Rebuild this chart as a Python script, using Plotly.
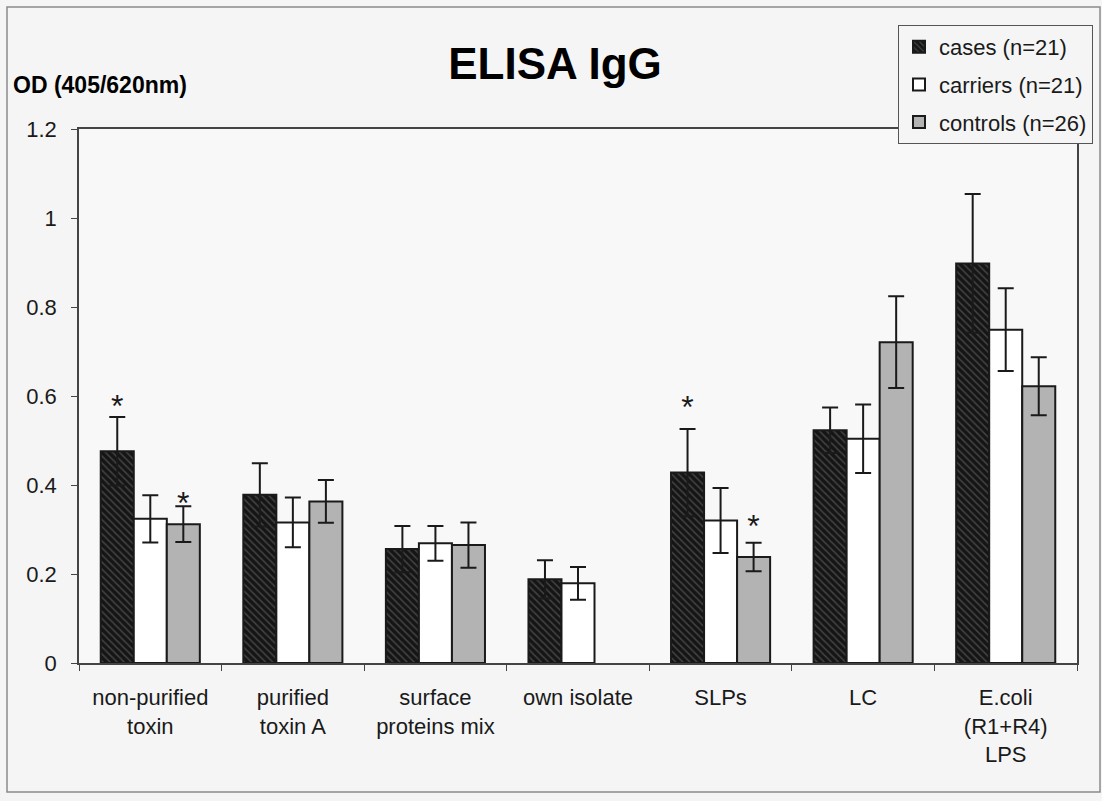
import plotly.graph_objects as go

categories = ["non-purified<br>toxin", "purified<br>toxin A", "surface<br>proteins mix",
              "own isolate", "SLPs", "LC", "E.coli<br>(R1+R4)<br>LPS"]
series_names = ["cases (n=21)", "carriers (n=21)", "controls (n=26)"]

cases = [0.476, 0.378, 0.256, 0.188, 0.428, 0.523, 0.898]
cases_err = [0.077, 0.071, 0.052, 0.043, 0.098, 0.051, 0.156]
carriers = [0.324, 0.316, 0.269, 0.179, 0.320, 0.504, 0.749]
carriers_err = [0.053, 0.056, 0.039, 0.037, 0.073, 0.077, 0.093]
controls = [0.312, 0.363, 0.265, None, 0.238, 0.721, 0.622]
controls_err = [0.040, 0.048, 0.051, None, 0.032, 0.103, 0.065]

# significance asterisks (y position)
cases_star = [0.570, None, None, None, 0.568, None, None]
controls_star = [0.353, None, None, None, 0.301, None, None]

FONT = "Liberation Sans, Arial, sans-serif"
INK = "#1a1a1a"
BG = "#f5f5f5"

fig = go.Figure()

err_style = dict(type="data", visible=True, color=INK, thickness=2, width=8)

fig.add_trace(go.Bar(
    x=categories, y=cases, name=series_names[0], offsetgroup="a", legendgroup="a",
    error_y=dict(array=cases_err, **err_style),
    marker=dict(color="#1a1a1a", line=dict(color=INK, width=2),
                pattern=dict(shape="\\", bgcolor="#151515", fgcolor="#707070",
                             size=5, solidity=0.3)),
))
fig.add_trace(go.Bar(
    x=categories, y=carriers, name=series_names[1], offsetgroup="b", legendgroup="b",
    error_y=dict(array=carriers_err, **err_style),
    marker=dict(color="#ffffff", line=dict(color=INK, width=2)),
))
fig.add_trace(go.Bar(
    x=categories, y=controls, name=series_names[2], offsetgroup="c", legendgroup="c",
    error_y=dict(array=controls_err, **err_style),
    marker=dict(color="#b3b3b3", line=dict(color=INK, width=2)),
))

for star, grp in [(cases_star, "a"), (controls_star, "c")]:
    fig.add_trace(go.Scatter(
        x=categories, y=star, mode="text", text=["*" if s is not None else "" for s in star],
        textfont=dict(family=FONT, size=32, color=INK), textposition="middle center",
        offsetgroup=grp, showlegend=False, hoverinfo="skip",
    ))
fig.add_trace(go.Scatter(x=categories, y=[None] * 7, mode="text", offsetgroup="b",
                         showlegend=False, hoverinfo="skip"))

fig.update_layout(
    width=1102, height=801,
    margin=dict(l=79, r=25, t=129, b=138, autoexpand=False),
    paper_bgcolor=BG, plot_bgcolor="#f8f8f8",
    barmode="group", scattermode="group", bargap=0.305, bargroupgap=0,
    font=dict(family=FONT, color=INK),
    title=dict(text="<b>ELISA IgG</b>", font=dict(family=FONT, size=44, color="#000"),
               x=555 / 1102, xanchor="center", xref="container",
               y=1 - 64 / 801, yanchor="middle", yref="container"),
    legend=dict(xref="container", yref="container", x=898 / 1102, y=1 - 25 / 801,
                xanchor="left", yanchor="top", bgcolor=BG, bordercolor="#555",
                borderwidth=1, font=dict(family=FONT, size=22, color=INK),
                tracegroupgap=6, itemwidth=30),
    showlegend=True,
)

fig.update_xaxes(
    type="category", tickson="boundaries", ticks="outside", ticklen=6, tickwidth=1,
    tickcolor="#444", showline=True, linecolor="#444", linewidth=1.5, mirror=True,
    showgrid=False, tickfont=dict(family=FONT, size=22, color=INK),
    ticklabelstandoff=14, automargin=False,
)
fig.update_yaxes(
    range=[0, 1.2], dtick=0.2, tick0=0, ticks="outside", ticklen=6, tickwidth=1,
    tickcolor="#444", showline=True, linecolor="#444", linewidth=1.5, mirror=True,
    showgrid=False, zeroline=False, tickfont=dict(family=FONT, size=22, color=INK),
    ticklabelstandoff=10, automargin=False,
)

fig.add_annotation(text="<b>OD (405/620nm)</b>", xref="paper", yref="paper",
                   x=(11 - 79) / 998, y=(663 - 85) / 534, xanchor="left", yanchor="middle",
                   showarrow=False, font=dict(family=FONT, size=23, color="#000"))

fig.add_shape(type="rect", xref="paper", yref="paper",
              x0=(7 - 79) / 998, x1=(1100 - 79) / 998,
              y0=(663 - 792) / 534, y1=(663 - 7) / 534,
              line=dict(color="#8a8a8a", width=1.5), layer="below")

fig.write_html("out.html")
